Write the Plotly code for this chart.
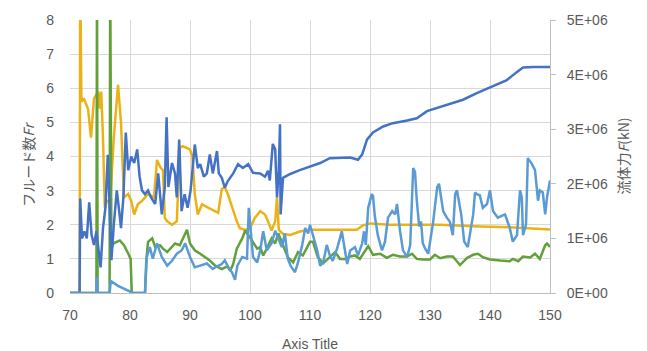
import plotly.graph_objects as go

# ---- Data ----
# Froude number Fr (left axis): (x, Fr)
fr_orange = [(70,0),(71.6,0),(71.7,9.5),(71.9,5.6),(72.3,5.7),(72.7,5.5),(73.0,5.4),(73.5,4.55),(74.0,5.7),
             (74.7,5.9),(74.9,5.4),(75.2,5.9),(75.5,4.55),(75.8,2.5),(76.2,2.7),(76.7,2.7),(77.3,4.55),(78.0,6.1),
             (78.2,5.6),(78.5,5.0),(78.8,3.66),(79.0,2.8),(79.7,2.9),(80.2,2.7),(80.7,2.3),(81.3,2.6),(82.0,2.7),
             (83.0,2.9),(84.0,2.8),(84.5,3.9),(85.0,3.7),(85.5,3.6),(85.8,2.2),(86.2,2.1),(87.0,2.0),(87.8,2.1),
             (88.3,4.25),(88.8,4.3),(89.5,4.25),(90.0,4.2),(90.4,4.0),(90.8,2.9),(91.3,2.3),(92.0,2.6),(93.0,2.5),
             (94.0,2.4),(94.7,2.35),(95.3,3.05),(95.8,3.1),(96.3,2.9),(97.0,2.5),(97.8,2.1),(98.3,1.9),(99.2,1.85),
             (100.0,1.9),(100.8,2.2),(101.7,2.4),(102.5,2.3),(103.0,2.1),(103.6,1.83),(104.2,2.1),(104.5,2.8),
             (104.8,1.85),(105.5,1.73),(106.7,1.7),(108.3,1.8),(110,1.85),(113.8,1.85),(116.7,1.83),(117.8,1.85),
             (118.8,1.98),(120,2.04),(123.3,2.0),(126.2,2.0),(131.7,2.0),(138.3,1.95),(144,1.92),(150,1.86)]

fr_green = [(70,0),(74.4,0),(74.5,9.5),(74.6,0),(76.6,0),(76.7,9.5),(76.9,1.3),(77.2,1.45),(78.3,1.54),(79.0,1.4),
            (79.7,1.16),(80.1,1.0),(80.3,0),(82.5,0),(82.7,0.9),(83.0,1.5),(83.7,1.6),(84.2,1.35),(85.0,1.4),
            (85.5,1.3),(86.2,1.2),(87.0,1.35),(87.5,1.45),(88.3,1.4),(89.5,1.85),(90.0,1.45),(90.8,1.25),(91.7,1.15),
            (92.5,1.05),(93.3,0.95),(94.2,0.8),(95.3,0.7),(96.2,0.78),(96.7,0.65),(97.2,0.85),(97.8,1.3),(98.7,1.6),
            (99.2,1.83),(99.7,1.7),(100.5,1.5),(101.2,1.3),(101.7,1.34),(102.2,1.1),(102.8,1.3),(103.6,1.6),
            (104.2,1.45),(104.7,1.75),(105.5,1.4),(106.3,1.05),(107.2,0.9),(108.0,1.2),(108.8,1.1),(110.0,1.5),
            (110.5,1.5),(111.3,1.05),(112.2,0.87),(113.3,1.05),(114.2,1.2),(115.0,1.0),(116.0,1.0),(116.7,1.07),
            (117.5,1.1),(118.3,1.0),(119.7,1.37),(120.5,1.12),(121.7,1.15),(122.8,1.03),(123.8,1.12),(125,1.07),
            (126.2,1.07),(127,1.15),(127.8,1.0),(128.8,0.98),(130,0.98),(130.8,1.12),(131.7,1.02),(132.8,1.07),
            (133.8,1.07),(135,0.82),(136.2,1.03),(137.2,1.12),(138,1.15),(138.8,1.05),(140,0.98),(141.7,0.95),
            (143.3,0.93),(143.8,1.0),(144.7,0.93),(145.5,1.07),(146.7,1.04),(147.5,1.15),(148.3,1.0),(149.2,1.4),
            (149.5,1.45),(150,1.35)]

# Fluid force F (right axis), in units of 1E+06 kN: (x, F)
f_dark = [(70,0),(71.6,0),(71.7,1.73),(72.0,1.0),(72.4,1.13),(72.8,1.0),(73.2,1.66),(73.6,1.06),(74.0,0.88),
          (74.4,1.13),(74.8,0.75),(75.1,0.47),(75.5,1.19),(75.9,1.56),(76.3,2.53),(76.6,1.63),(76.9,0.6),
          (77.3,1.25),(77.8,1.88),(78.2,1.5),(78.5,1.19),(78.9,1.75),(79.3,2.94),(79.7,2.25),(80.2,2.5),
          (80.7,2.38),(81.2,2.63),(81.6,2.13),(82.0,1.88),(82.5,1.81),(83.0,1.88),(83.5,1.75),(84.2,1.63),
          (84.7,2.19),(85.3,1.44),(85.8,1.94),(86.1,3.22),(86.4,1.94),(87.0,2.38),(87.5,2.19),(87.8,1.75),
          (88.2,2.81),(88.6,1.5),(89.1,1.81),(89.6,1.56),(90.1,1.88),(90.8,2.72),(91.3,2.29),(91.7,2.36),
          (92.3,2.13),(92.8,2.19),(93.3,2.54),(93.8,2.19),(94.5,2.6),(94.8,2.19),(95.3,2.11),(95.8,1.93),
          (96.3,2.05),(97.2,2.19),(98.0,2.36),(98.8,2.29),(99.7,2.36),(100.5,2.2),(101.7,2.19),(102.5,2.13),
          (103.0,2.24),(103.3,2.06),(103.8,2.73),(104.2,2.63),(104.5,1.75),(104.8,2.25),(105.0,3.09),(105.1,1.44),
          (105.5,2.11),(106.7,2.18),(108.3,2.25),(110,2.31),(111.7,2.38),(113.3,2.47),(115,2.47),(116.7,2.48),
          (118,2.44),(118.7,2.54),(119.5,2.81),(120.5,2.94),(122.2,3.05),(123.8,3.11),(126.2,3.16),(127.8,3.2),
          (129.5,3.33),(131.2,3.39),(133.3,3.45),(135.5,3.54),(137.8,3.66),(140,3.76),(142.8,3.9),(144.5,4.05),
          (145.5,4.13),(147.2,4.14),(150,4.14)]

f_light = [(70,0),(74.4,0),(74.5,0.29),(74.6,0),(76.6,0),(76.8,0.22),(78.0,0.13),(80.0,0.03),(80.5,0),(82.5,0),
           (82.8,0.66),(83.3,0.84),(83.8,0.63),(84.5,0.91),(85.3,0.66),(86.2,0.5),(87.0,0.59),(87.8,0.72),
           (88.6,0.78),(89.2,0.91),(90.0,0.66),(90.8,0.47),(91.7,0.5),(92.8,0.54),(93.8,0.44),(94.5,0.49),
           (95.3,0.53),(95.8,0.6),(96.3,0.49),(97.0,0.38),(97.5,0.24),(97.9,0.5),(98.7,0.66),(99.5,0.63),
           (99.8,1.56),(100.2,1.0),(100.5,0.66),(101.2,0.56),(101.7,0.78),(102.2,1.13),(102.8,0.78),(103.6,0.91),
           (104.2,1.14),(104.7,1.0),(105.3,0.84),(105.8,1.09),(106.3,0.63),(106.8,0.49),(107.5,0.38),(108.0,0.56),
           (108.7,0.88),(109.2,1.19),(109.7,1.09),(110.0,1.25),(110.5,1.06),(111.2,0.78),(111.7,0.5),(112.2,0.56),
           (112.8,0.88),(113.3,0.69),(113.8,0.59),(114.5,0.81),(115.3,1.13),(116.2,0.53),(116.7,0.78),(117.5,0.84),
           (118.0,0.69),(118.7,0.91),(119.0,1.13),(119.3,0.88),(119.7,1.56),(120.3,1.81),(120.5,1.78),(120.8,1.41),
           (121.3,1.06),(122.0,0.78),(122.5,0.94),(123.0,1.38),(123.7,1.5),(124.2,1.44),(124.5,1.63),(125.0,1.14),
           (125.5,0.78),(126.2,0.66),(126.7,0.88),(127.2,2.29),(127.5,2.22),(127.8,1.69),(128.2,1.22),(128.5,1.31),
           (128.8,0.91),(129.2,0.81),(129.7,0.72),(130.5,1.28),(131.2,1.94),(131.5,2.0),(132.2,1.5),(132.8,1.38),
           (133.3,1.31),(133.8,1.06),(134.2,1.81),(134.5,1.88),(135.2,1.44),(135.7,0.94),(136.3,0.84),(137.2,1.44),
           (137.5,1.84),(137.8,1.81),(138.3,1.79),(138.8,1.56),(139.5,1.63),(140.0,1.88),(140.5,1.5),(141.3,1.38),
           (142.5,1.44),(143.3,1.19),(143.8,0.94),(144.5,1.06),(145.0,1.88),(145.3,1.75),(145.5,1.06),(146.0,1.25),
           (146.3,2.47),(147.0,2.36),(147.5,2.25),(148.0,1.69),(148.3,1.88),(148.8,1.84),(149.2,1.44),(149.5,1.75),
           (150,2.06)]

x_ticks = [70, 80, 90, 100, 110, 120, 130, 140, 150]
left_ticks = [0, 1, 2, 3, 4, 5, 6, 7, 8]
right_tickvals = [0, 1e6, 2e6, 3e6, 4e6, 5e6]
right_ticktext = ["0E+00", "1E+06", "2E+06", "3E+06", "4E+06", "5E+06"]

C_ORANGE = "#EBB217"
C_GREEN = "#62A03A"
C_DARK = "#4472C4"
C_LIGHT = "#5B9BD5"
GRID = "#D9D9D9"
TXT = "#595959"
FONT = "Liberation Sans, Arial, sans-serif"
JFONT = "Noto Sans CJK JP, sans-serif"
LW = 2.5


def xs(p):
    return [a for a, _ in p]


def ys(p, scale=1.0):
    return [b * scale for _, b in p]


fig = go.Figure()
fig.add_trace(go.Scatter(x=xs(fr_orange), y=ys(fr_orange), mode="lines", yaxis="y",
                         line=dict(color=C_ORANGE, width=LW), showlegend=False))
fig.add_trace(go.Scatter(x=xs(fr_green), y=ys(fr_green), mode="lines", yaxis="y",
                         line=dict(color=C_GREEN, width=LW), showlegend=False))
fig.add_trace(go.Scatter(x=xs(f_dark), y=ys(f_dark, 1e6), mode="lines", yaxis="y2",
                         line=dict(color=C_DARK, width=LW), showlegend=False))
fig.add_trace(go.Scatter(x=xs(f_light), y=ys(f_light, 1e6), mode="lines", yaxis="y2",
                         line=dict(color=C_LIGHT, width=LW), showlegend=False))

W = 647 - 70 - 97
fig.update_layout(
    width=647, height=351,
    margin=dict(l=70, r=97, t=18, b=58),
    paper_bgcolor="white", plot_bgcolor="white",
    font=dict(family=FONT, size=13, color=TXT),
    xaxis=dict(range=[70, 150], tickvals=x_ticks, showgrid=True, gridcolor=GRID, gridwidth=1,
               zeroline=False, showline=True, linecolor="#BFBFBF", linewidth=1,
               ticks="", tickfont=dict(size=14, color=TXT), ticklabelstandoff=9),
    yaxis=dict(range=[0, 8], tickvals=left_ticks, showgrid=True, gridcolor=GRID, gridwidth=1,
               zeroline=False, showline=False, ticks="", tickfont=dict(size=14, color=TXT),
               ticklabelstandoff=15),
    yaxis2=dict(range=[0, 5e6], tickvals=right_tickvals, ticktext=right_ticktext, overlaying="y",
                side="right", showgrid=False, zeroline=False, showline=True, linecolor="#BFBFBF",
                linewidth=1, ticks="outside", ticklen=5, tickcolor="#BFBFBF",
                tickfont=dict(size=14, color=TXT), ticklabelstandoff=8),
    annotations=[
        dict(text="Axis Title", x=0.5, xref="paper", y=-0.185, yref="paper", yanchor="middle",
             showarrow=False, font=dict(family=FONT, size=14, color=TXT)),
        dict(text="フルード数<i>Fr</i>", x=(28 - 70) / W, xref="paper", xanchor="center",
             y=0.47, yref="paper", showarrow=False,
             textangle=-90, font=dict(family=JFONT, size=14, color=TXT)),
        dict(text="流体力<i>F</i>(kN)", x=(622 - 70) / W, xref="paper", xanchor="center",
             y=0.5, yref="paper", showarrow=False,
             textangle=-90, font=dict(family=JFONT, size=14, color=TXT)),
    ],
)

fig.write_html("out.html")
